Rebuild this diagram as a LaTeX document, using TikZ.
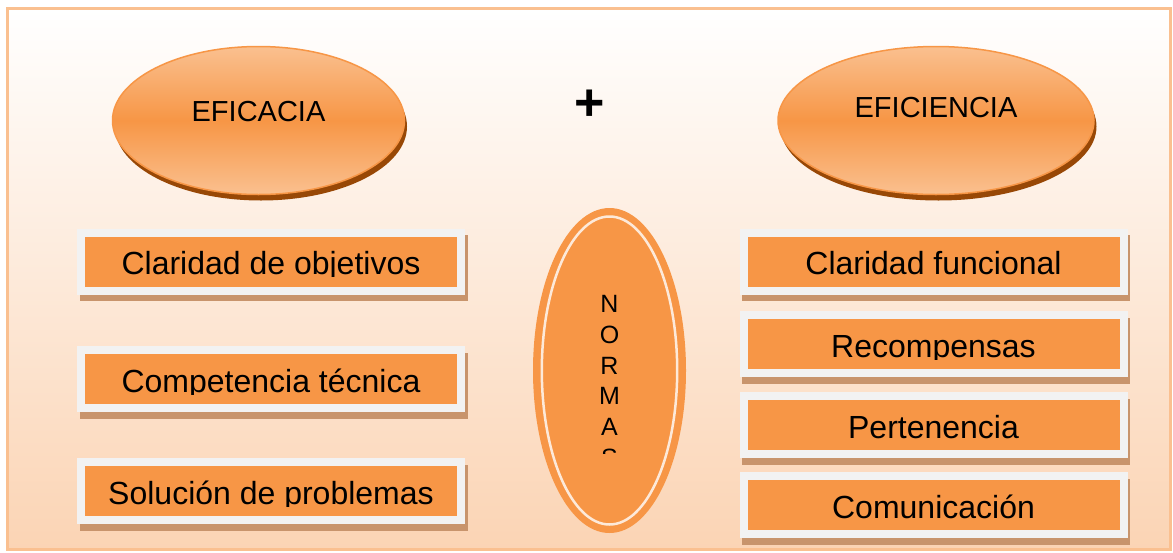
\documentclass[tikz,border=0pt]{standalone}
\usepackage{fontspec}
\setmainfont{Liberation Sans}
\usetikzlibrary{shapes.geometric,shadows}
\definecolor{orng}{RGB}{247,150,70}
\definecolor{lorng}{RGB}{250,192,143}
\definecolor{peach}{RGB}{251,212,180}
\definecolor{framec}{RGB}{250,192,144}
\definecolor{boxedge}{RGB}{242,242,242}
\definecolor{boxshadow}{RGB}{200,148,108}
\definecolor{ellshadow}{RGB}{152,72,6}
\definecolor{ringc}{RGB}{253,233,217}
\tikzset{
  framebox/.style={rectangle, draw=framec, line width=2.5pt, top color=white, bottom color=peach, minimum width=1163pt, minimum height=541pt, inner sep=0pt},
  oval/.style={ellipse, draw=orng, line width=1.5pt, top color=lorng, bottom color=lorng, middle color=orng, drop shadow={shadow xshift=2.5pt, shadow yshift=-6pt, fill=ellshadow, opacity=1}, inner sep=0pt},
  ovaltext/.style={font=\fontsize{29}{34}\selectfont, inner sep=0pt},
  itembox/.style={rectangle, fill=orng, draw=boxedge, line width=8pt, minimum width=380pt, minimum height=58pt, inner sep=0pt},
  itemtext/.style={font=\fontsize{32}{38}\selectfont, inner sep=0pt, anchor=base},
  plustext/.style={font=\fontsize{52}{60}\selectfont\bfseries, inner sep=0pt},
  normasoval/.style={ellipse, fill=orng, minimum width=153pt, minimum height=325pt, inner sep=0pt},
  normastext/.style={font=\fontsize{25}{30.8}\selectfont, align=center, inner sep=0pt, anchor=north}
}
\newcommand\itemrect[4]{%
  \fill[boxshadow] ({#2-194+2.5},{#3-33+6.5}) rectangle ({#2+194+2.5},{#3+33+6.5});
  \node[itembox] (#1) at (#2,#3) {};
  \begin{scope}
    \clip ({#2-190},{#3-26}) rectangle ({#2+190},{#3+15});
    \node[itemtext] (#1t) at ({#2},{#3+13}) {#4};
  \end{scope}
}
\begin{document}
\begin{tikzpicture}[x=1pt,y=-1pt]
\useasboundingbox (0,0) rectangle (1173,552);
\fill[white] (0,0) rectangle (1173,552);
\node[framebox] (frame) at (589,279) {};

\node[oval, minimum width=292pt, minimum height=148pt] (eficacia) at (258.5,120.5) {};
\node[ovaltext] (eficaciat) at (258.5,112) {EFICACIA};

\node[oval, minimum width=316pt, minimum height=148pt] (eficiencia) at (936,120.5) {};
\node[ovaltext] (eficienciat) at (936,108) {EFICIENCIA};

\node[plustext] (plus) at (590,105) {+};

\node[normasoval] (normas) at (609.5,370.5) {};
\draw[ringc, line width=2.5pt] (normas.center) ellipse [x radius=67.7, y radius=154];
\begin{scope}
  \clip (540,290) rectangle (680,453);
  \node[normastext] (normast) at (609.5,295) {N\\O\\R\\M\\A\\S};
\end{scope}

\itemrect{c1}{271}{261.5}{Claridad de objetivos}
\itemrect{c2}{271}{379}{Competencia técnica}
\itemrect{c3}{271}{491}{Solución de problemas}

\itemrect{f1}{933.5}{261.5}{Claridad funcional}
\itemrect{f2}{933.5}{344}{Recompensas}
\itemrect{f3}{933.5}{425}{Pertenencia}
\itemrect{f4}{933.5}{505}{Comunicación}
\end{tikzpicture}
\end{document}
